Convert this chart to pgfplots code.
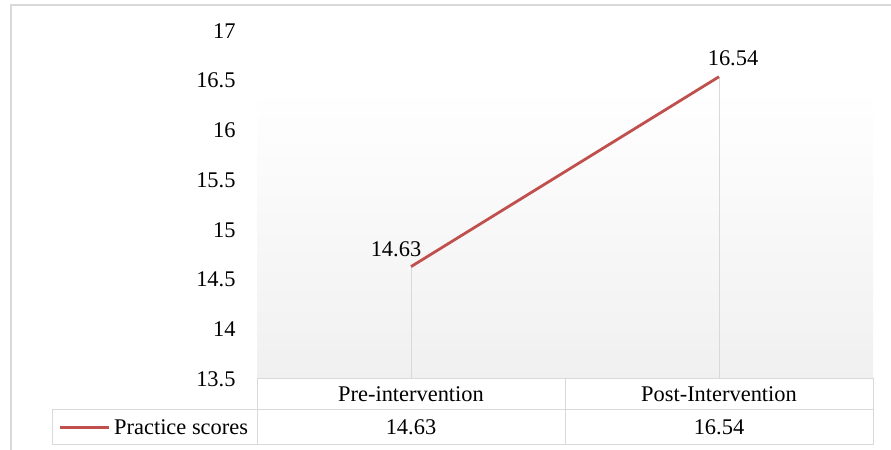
\documentclass[border=0pt]{standalone}
\usepackage{pgfplots}
\pgfplotsset{compat=1.18}
\usepackage{fontspec}
\setmainfont{Liberation Serif}
\definecolor{linered}{HTML}{C0504D}
\definecolor{gridgray}{HTML}{D9D9D9}
\definecolor{bggray}{HTML}{F0F0F0}
\newcommand{\chartfont}{\rmfamily\fontsize{22.5}{26}\selectfont}
\begin{document}
\begin{tikzpicture}
\begin{scope}[x=1bp,y=1bp]
\path[use as bounding box] (0,0) rectangle (891,450);
\draw[gridgray, line width=1.5bp] (11,-5) -- (11,445) -- (900,445);
\end{scope}
\begin{axis}[at={(257bp,71bp)}, anchor=south west, scale only axis,
  width=616bp, height=348bp,
  xmin=-0.5, xmax=1.5, ymin=13.5, ymax=17,
  ytick={13.5,14,14.5,15,15.5,16,16.5,17},
  xtick=\empty,
  axis line style={draw=none},
  major tick length=0pt,
  clip=true, clip mode=individual,
  font=\chartfont,
  /pgf/number format/assume math mode=true,
  yticklabel style={anchor=east, xshift=-18bp},
]
\fill[top color=white, bottom color=bggray] (axis cs:-0.5,13.5) rectangle (axis cs:1.5,16.43);
\addplot[gridgray, line width=1bp, ycomb, no marks] coordinates {(0,14.63) (1,16.54)};
\addplot[linered, line width=2.8bp, no marks] coordinates {(0,14.63) (1,16.54)};
\node[font=\chartfont] at (axis cs:0,14.63) [xshift=-15bp, yshift=17bp] {14.63};
\node[font=\chartfont] at (axis cs:1,16.54) [xshift=14bp, yshift=18bp] {16.54};
\end{axis}
\begin{scope}[x=1bp,y=1bp]
% data table
\draw[gridgray, line width=1bp] (257,71) rectangle (873,40);
\draw[gridgray, line width=1bp] (52,40) rectangle (873,5);
\draw[gridgray, line width=1bp] (565,71) -- (565,5);
\draw[gridgray, line width=1bp] (257,40) -- (257,5);
\begin{scope}[font=\chartfont]
\node at (411,55.5) {Pre-intervention};
\node at (719,55.5) {Post-Intervention};
\node at (411,22.5) {14.63};
\node at (719,22.5) {16.54};
\node[anchor=west, inner sep=0pt] at (114,22.5) {Practice scores};
\end{scope}
\draw[linered, line width=2.8bp] (60,22.5) -- (109,22.5);
\end{scope}
\end{tikzpicture}
\end{document}
